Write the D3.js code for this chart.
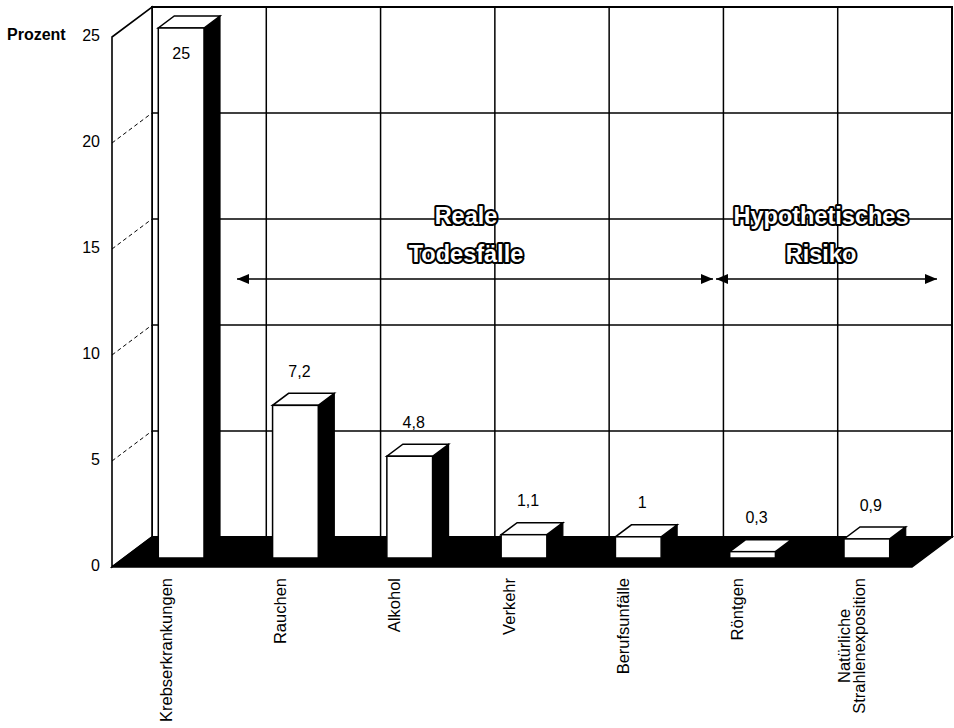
<!DOCTYPE html>
<html>
<head>
<meta charset="utf-8">
<script src="https://cdn.jsdelivr.net/npm/d3@7"></script>
<style>
  html, body { margin: 0; padding: 0; background: #fff; }
  svg { display: block; font-family: "Liberation Sans", Arial, sans-serif; }
</style>
</head>
<body>
<svg id="chart" width="954" height="728"></svg>
<script>
// Anteile in Prozent
const categories = ["Krebserkrankungen", "Rauchen", "Alkohol", "Verkehr", "Berufsunfälle", "Röntgen", "Natürliche\nStrahlenexposition"];
const values = [25, 7.2, 4.8, 1.1, 1, 0.3, 0.9];
const yTicks = [0, 5, 10, 15, 20, 25];
const axisTitle = "Prozent";
const annotationLines = [["Reale", "Todesfälle"], ["Hypothetisches", "Risiko"]];

const data = categories.map((c, i) => ({ cat: c, value: values[i] }));

const svg = d3.select("#chart");
const W = 954, H = 728;
svg.append("rect").attr("width", W).attr("height", H).attr("fill", "#fff");

// back wall plane and oblique depth projection
const back = { left: 152, right: 952, top: 7, bottom: 537 };
const depth = { dx: -40, dy: 30 };
const P = (px, py, f) => [px + depth.dx * f, py + depth.dy * f];

const x = d3.scaleBand().domain(categories).range([back.left, back.right]);
const y = d3.scaleLinear().domain([0, 25]).range([back.bottom, back.top]);
const bw = x.bandwidth();

const poly = pts => "M" + pts.map(p => p.join(",")).join("L") + "Z";

// back wall
svg.append("rect")
  .attr("x", back.left).attr("y", y(25))
  .attr("width", back.right - back.left).attr("height", y(0) - y(25))
  .attr("fill", "#fff").attr("stroke", "#000").attr("stroke-width", 2);

// side wall
svg.append("path")
  .attr("d", poly([P(back.left, y(25), 1), P(back.left, y(25), 0), P(back.left, y(0), 0), P(back.left, y(0), 1)]))
  .attr("fill", "#fff").attr("stroke", "#000").attr("stroke-width", 1.6);

// horizontal gridlines on back wall
const inner = yTicks.filter(v => v > 0 && v < 25);
svg.append("g").selectAll("line").data(inner).join("line")
  .attr("x1", back.left).attr("x2", back.right)
  .attr("y1", d => y(d)).attr("y2", d => y(d))
  .attr("stroke", "#000").attr("stroke-width", 1.5);

// gridlines across the side wall
svg.append("g").selectAll("line").data(inner).join("line")
  .attr("x1", d => P(back.left, y(d), 1)[0]).attr("y1", d => P(back.left, y(d), 1)[1])
  .attr("x2", d => P(back.left, y(d), 0)[0]).attr("y2", d => P(back.left, y(d), 0)[1])
  .attr("stroke", "#000").attr("stroke-width", 1).attr("stroke-dasharray", "4,3");

// vertical gridlines on back wall
svg.append("g").selectAll("line").data(categories.slice(1)).join("line")
  .attr("x1", d => x(d)).attr("x2", d => x(d))
  .attr("y1", y(25)).attr("y2", y(0))
  .attr("stroke", "#000").attr("stroke-width", 1.5);

// floor
svg.append("path")
  .attr("d", poly([P(back.left, y(0), 0), P(back.right, y(0), 0), P(back.right, y(0), 1), P(back.left, y(0), 1)]))
  .attr("fill", "#000").attr("stroke", "#000").attr("stroke-width", 1.5);

// 3D columns
const barFrac = 0.4, fFront = 0.7, fBack = 0.3;
const bars = svg.append("g").selectAll("g").data(data).join("g");
bars.each(function (d) {
  const g = d3.select(this);
  const w = bw * barFrac;
  const xb0 = x(d.cat) + (bw - w) / 2, xb1 = xb0 + w;
  const [x0, yTop] = P(xb0, y(d.value), fFront);
  const [x1, yBot] = P(xb1, y(0), fFront);
  const [bx1, byTop] = P(xb1, y(d.value), fBack);
  const [, byBot] = P(xb1, y(0), fBack);
  const [bx0] = P(xb0, y(d.value), fBack);
  // side face
  g.append("path")
    .attr("d", poly([[x1, yTop], [bx1, byTop], [bx1, byBot], [x1, yBot]]))
    .attr("fill", "#000").attr("stroke", "#000").attr("stroke-width", 1.2);
  // top face
  g.append("path")
    .attr("d", poly([[x0, yTop], [x1, yTop], [bx1, byTop], [bx0, byTop]]))
    .attr("fill", "#fff").attr("stroke", "#000").attr("stroke-width", 1.5);
  // front face
  g.append("rect")
    .attr("x", x0).attr("y", yTop).attr("width", x1 - x0).attr("height", yBot - yTop)
    .attr("fill", "#fff").attr("stroke", "#000").attr("stroke-width", 1.5);
});

// value labels
const de = d3.formatLocale({ decimal: ",", thousands: ".", grouping: [3], currency: ["", " €"] });
const fmt = de.format("~g");
svg.append("g").selectAll("text").data(data).join("text")
  .each(function (d) {
    const w = bw * barFrac;
    const xb0 = x(d.cat) + (bw - w) / 2;
    const [x0, yTop] = P(xb0, y(d.value), fFront);
    let lx = x(d.cat) + bw / 2 - 24;
    let ly = y(d.value) + 15 - 28;
    if (ly < back.top + 20) { lx = x0 + w / 2; ly = yTop + 25; }
    d3.select(this).attr("x", lx).attr("y", ly);
  })
  .attr("dy", "0.35em")
  .attr("text-anchor", "middle")
  .attr("font-size", 16)
  .attr("fill", "#000")
  .text(d => fmt(d.value));

// value axis on the front edge of the side wall
const yFront = y.copy().range([y(0) + depth.dy, y(25) + depth.dy]);
const axis = svg.append("g")
  .attr("transform", `translate(${back.left + depth.dx},0)`)
  .call(d3.axisLeft(yFront).tickValues(yTicks).tickSize(0).tickPadding(12).tickFormat(fmt));
axis.select(".domain").remove();
axis.selectAll("text")
  .attr("font-size", 16).attr("font-family", "'Liberation Sans', Arial, sans-serif")
  .attr("fill", "#000").attr("dy", "0.2em");

svg.append("text")
  .attr("x", 7).attr("y", yFront(25)).attr("dy", "0.2em")
  .attr("font-size", 16).attr("font-weight", "bold").attr("fill", "#000")
  .text(axisTitle);

// category labels, rotated, hanging below the floor
const lineH = 15;
const cats = svg.append("g").selectAll("g").data(categories).join("g")
  .attr("transform", d => `translate(${x(d) + bw / 2 - 43},578) rotate(-90)`);
cats.each(function (d) {
  const lines = d.split("\n");
  const t = d3.select(this).append("text")
    .attr("font-size", 16.5).attr("fill", "#000");
  const spans = t.selectAll("tspan").data(lines).join("tspan")
    .attr("x", 0)
    .attr("y", (l, i) => (i - (lines.length - 1) / 2) * lineH)
    .attr("dy", "0.35em")
    .text(l => l);
  if (lines.length > 1) {
    const maxLen = d3.max(spans.nodes(), n => n.getComputedTextLength());
    t.attr("text-anchor", "middle");
    spans.attr("x", -maxLen / 2);
  } else {
    t.attr("text-anchor", "end");
  }
});

// range annotations with double-headed arrows
const defs = svg.append("defs");
defs.append("marker")
  .attr("id", "head").attr("viewBox", "0 0 12 10")
  .attr("refX", 12).attr("refY", 5)
  .attr("markerWidth", 12).attr("markerHeight", 10)
  .attr("markerUnits", "userSpaceOnUse")
  .attr("orient", "auto-start-reverse")
  .append("path").attr("d", "M0,0L12,5L0,10Z").attr("fill", "#000");

const arrowY = 279;
const spans = [
  { x0: 237, x1: 713, cx: 466, lines: annotationLines[0] },
  { x0: 716, x1: 937, cx: 821, lines: annotationLines[1] }
];
const ann = svg.append("g");
ann.selectAll("line").data(spans).join("line")
  .attr("x1", d => d.x0).attr("x2", d => d.x1)
  .attr("y1", arrowY).attr("y2", arrowY)
  .attr("stroke", "#000").attr("stroke-width", 1.6)
  .attr("marker-start", "url(#head)").attr("marker-end", "url(#head)");

ann.selectAll("text").data(spans).join("text")
  .attr("text-anchor", "middle")
  .attr("font-size", 23.5).attr("font-weight", "bold")
  .attr("fill", "#fff").attr("stroke", "#000").attr("stroke-width", 4)
  .attr("stroke-linejoin", "round")
  .style("paint-order", "stroke")
  .each(function (d) {
    d3.select(this).selectAll("tspan").data(d.lines).join("tspan")
      .attr("x", d.cx)
      .attr("y", (l, i) => 216 + i * 38)
      .attr("dy", "0.35em")
      .text(l => l);
  });
</script>
</body>
</html>
